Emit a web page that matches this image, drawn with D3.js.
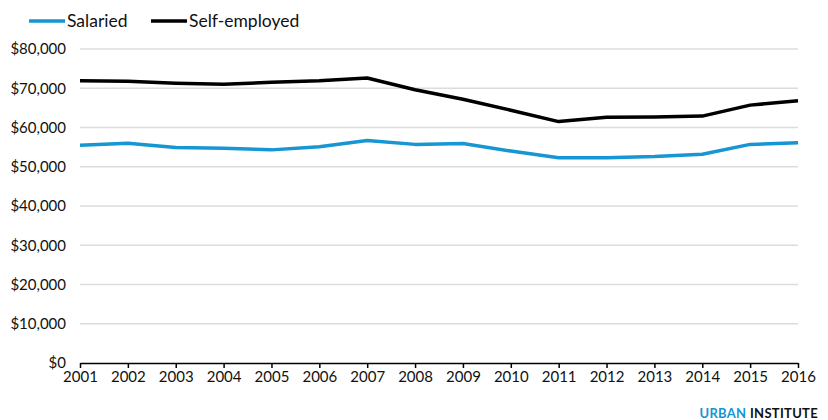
<!DOCTYPE html>
<html>
<head>
<meta charset="utf-8">
<script src="https://cdn.jsdelivr.net/npm/d3@7"></script>
<style>
  html, body { margin: 0; padding: 0; background: #fff; }
  svg { display: block; font-family: Lato, "Open Sans", sans-serif; }
</style>
</head>
<body>
<svg id="chart" width="828" height="420"></svg>
<script>
// Median income by employment type, 2001–2016
const years = [2001, 2002, 2003, 2004, 2005, 2006, 2007, 2008, 2009, 2010, 2011, 2012, 2013, 2014, 2015, 2016];
const salaried = [55500, 56000, 54900, 54700, 54300, 55100, 56700, 55700, 55900, 54000, 52300, 52300, 52600, 53200, 55700, 56100];
const selfEmployed = [71900, 71800, 71300, 71000, 71500, 71900, 72600, 69600, 67200, 64400, 61500, 62600, 62700, 62900, 65700, 66800];
const yTicks = [0, 10000, 20000, 30000, 40000, 50000, 60000, 70000, 80000];
const seriesNames = ["Salaried", "Self-employed"];
const seriesColors = ["#1696d2", "#000000"];

const svg = d3.select("#chart");
const margin = { left: 80, right: 30, top: 49, bottom: 57 };
const W = 828, H = 420;

const x = d3.scalePoint().domain(years).range([margin.left, W - margin.right]);
const y = d3.scaleLinear().domain([0, 80000]).range([H - margin.bottom, margin.top]);

// horizontal gridlines
svg.append("g")
  .selectAll("line")
  .data(yTicks.filter(d => d > 0))
  .join("line")
  .attr("x1", margin.left).attr("x2", W - margin.right)
  .attr("y1", d => y(d)).attr("y2", d => y(d))
  .attr("stroke", "#dcdcdc").attr("stroke-width", 1.5);

// y axis labels
const yAxis = svg.append("g")
  .attr("transform", `translate(${margin.left},0)`)
  .call(d3.axisLeft(y).tickValues(yTicks).tickSize(0).tickPadding(14)
    .tickFormat(d => "$" + d3.format(",")(d)));
yAxis.select(".domain").remove();
yAxis.selectAll("text").attr("font-size", 15).attr("fill", "#111").attr("font-family", "Lato, sans-serif");

// x axis
const xAxis = svg.append("g")
  .attr("transform", `translate(0,${y(0)})`)
  .call(d3.axisBottom(x).tickSize(5).tickPadding(3).tickSizeOuter(0));
xAxis.select(".domain").attr("stroke", "#000").attr("stroke-width", 1.5);
xAxis.selectAll(".tick line").attr("stroke", "#000").attr("stroke-width", 1.5);
xAxis.selectAll("text").attr("font-size", 15).attr("fill", "#111").attr("font-family", "Lato, sans-serif");

// series lines
const line = d3.line().x((d, i) => x(years[i])).y(d => y(d));
[salaried, selfEmployed].forEach((vals, k) => {
  svg.append("path")
    .datum(vals)
    .attr("d", line)
    .attr("fill", "none")
    .attr("stroke", seriesColors[k])
    .attr("stroke-width", 3.5)
    .attr("stroke-linejoin", "round");
});

// legend
const legendX = [29, 151];
seriesNames.forEach((name, k) => {
  const g = svg.append("g").attr("transform", `translate(${legendX[k]},21)`);
  g.append("line").attr("x1", 0).attr("x2", 36).attr("y1", 0).attr("y2", 0)
    .attr("stroke", seriesColors[k]).attr("stroke-width", 3.5);
  g.append("text").attr("x", 38).attr("y", 0).attr("dy", "0.35em")
    .attr("font-size", 17.5).attr("fill", "#111").text(name);
});

// branding
const brand = svg.append("text")
  .attr("x", 818).attr("y", 418)
  .attr("text-anchor", "end")
  .attr("font-size", 13).attr("font-weight", "bold")
  .attr("letter-spacing", 0.3);
brand.append("tspan").attr("fill", "#1696d2").text("URBAN ");
brand.append("tspan").attr("fill", "#111").text("INSTITUTE");
</script>
</body>
</html>
